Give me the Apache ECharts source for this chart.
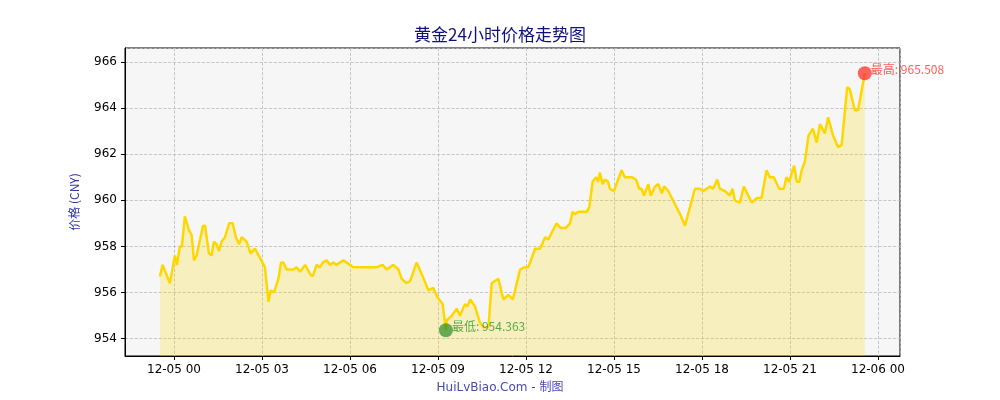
<!DOCTYPE html>
<html><head><meta charset="utf-8">
<script src="https://cdn.jsdelivr.net/npm/echarts@6/dist/echarts.min.js"></script>
<style>html,body{margin:0;padding:0;background:#fff}#c{width:1000px;height:400px}</style>
</head><body><div id="c"></div>
<script>
// hours relative to 2024-12-05 00:00
const hours = [-0.48,-0.39,-0.14,0.03,0.1,0.2,0.27,0.37,0.43,0.51,0.6,0.68,0.77,0.99,1.06,1.19,1.28,1.36,1.45,1.53,1.62,1.74,1.88,2.0,2.11,2.22,2.31,2.48,2.61,2.76,2.93,3.1,3.22,3.3,3.41,3.56,3.65,3.73,3.84,4.07,4.18,4.3,4.47,4.64,4.73,4.86,4.98,5.07,5.2,5.32,5.43,5.54,5.77,6.0,6.11,6.91,7.11,7.25,7.48,7.65,7.76,7.93,8.05,8.27,8.48,8.67,8.84,8.98,9.16,9.27,9.3,9.47,9.64,9.75,9.92,10.0,10.1,10.26,10.43,10.55,10.72,10.83,10.94,11.06,11.23,11.4,11.55,11.8,11.97,12.08,12.31,12.48,12.65,12.76,13.04,13.18,13.36,13.5,13.59,13.67,13.78,14.07,14.16,14.27,14.39,14.46,14.52,14.61,14.69,14.8,14.86,15.0,15.11,15.26,15.37,15.6,15.75,15.86,15.94,16.02,16.17,16.25,16.4,16.51,16.63,16.71,16.85,17.25,17.42,17.76,17.93,18.04,18.27,18.38,18.52,18.61,18.78,18.95,19.04,19.12,19.29,19.43,19.69,19.88,20.03,20.2,20.31,20.45,20.63,20.79,20.88,20.97,21.14,21.23,21.32,21.4,21.51,21.63,21.78,21.91,22.02,22.19,22.3,22.47,22.64,22.76,22.95,23.04,23.21,23.32,23.55];
const prices = [956.7,957.2,956.4,957.6,957.2,958.0,958.0,959.3,959.3,958.7,958.5,957.4,957.6,958.9,958.9,957.7,957.6,958.2,958.1,957.8,958.2,958.4,959.0,959.0,958.4,958.1,958.4,958.2,957.7,957.9,957.5,957.1,955.6,956.1,956.0,956.6,957.3,957.3,957.0,957.0,957.1,956.9,957.2,956.8,956.7,957.2,957.1,957.3,957.4,957.2,957.3,957.2,957.4,957.2,957.1,957.1,957.2,957.0,957.2,957.0,956.6,956.4,956.5,957.3,956.7,956.1,956.2,955.8,955.5,954.363,954.8,955.0,955.3,955.0,955.5,955.4,955.7,955.4,954.7,954.5,954.5,956.4,956.5,956.6,955.7,955.9,955.7,957.0,957.1,957.1,957.9,957.9,958.4,958.3,959.0,958.8,958.8,959.0,959.5,959.4,959.5,959.5,959.7,960.8,961.0,960.8,961.2,960.7,960.9,960.8,960.5,960.4,960.8,961.3,961.0,961.0,960.9,960.5,960.5,960.2,960.7,960.2,960.6,960.7,960.3,960.6,960.4,959.4,958.9,960.5,960.5,960.4,960.6,960.5,960.9,960.5,960.4,960.2,960.5,960.0,959.9,960.6,959.9,960.1,960.1,961.3,961.0,961.0,960.5,960.5,961.0,960.8,961.5,960.8,960.8,961.3,961.7,962.8,963.1,962.5,963.3,962.9,963.6,962.8,962.3,962.4,964.9,964.8,963.9,963.9,965.508];
const tickLabels = ['12-05 00','12-05 03','12-05 06','12-05 09','12-05 12','12-05 15','12-05 18','12-05 21','12-06 00'];
const minPoint = {hour: 9.27, value: 954.363, label: '最低: 954.363'};
const maxPoint = {hour: 23.55, value: 965.508, label: '最高: 965.508'};
const S = h => h / 3; // x axis unit: 3-hour blocks
const data = hours.map((h, i) => [S(h), prices[i]]);
const chart = echarts.init(document.getElementById('c'));
chart.setOption({
  backgroundColor: '#fff',
  animation: false,
  title: {text: '黄金24小时价格走势图', left: 'center', top: 21,
    textStyle: {fontFamily: 'Noto Sans CJK SC', fontSize: 17, fontWeight: 'normal', color: '#10107a'}},
  graphic: [{type: 'text', left: 'center', top: 382,
    style: {text: 'HuiLvBiao.Com - 制图', fill: '#4a4ab0', font: '12px "DejaVu Sans","Noto Sans CJK SC"'}}],
  grid: {left: 125, right: 100, top: 48, bottom: 44, show: true, backgroundColor: '#f6f6f6', borderColor: '#000', borderWidth: 1},
  xAxis: {type: 'value', min: S(-1.67), max: S(24.75), splitNumber: 9,
    axisLine: {show: true, onZero: false, lineStyle: {color: '#000'}}, axisTick: {show: true, length: 4, lineStyle: {color: '#000'}},
    axisLabel: {formatter: v => tickLabels[Math.round(v)] || '', color: '#000', fontFamily: 'DejaVu Sans', fontSize: 12, margin: 8,
      showMinLabel: false, showMaxLabel: false, hideOverlap: false},
    splitLine: {show: true, lineStyle: {color: '#bbb', type: 'dashed', width: 0.8}}},
  yAxis: {type: 'value', min: 953.25, max: 966.6, splitNumber: 6,
    name: '价格 (CNY)', nameLocation: 'middle', nameGap: 45, nameRotate: 90,
    nameTextStyle: {color: '#3333aa', fontFamily: 'Noto Sans CJK SC', fontSize: 12},
    axisLine: {show: true, onZero: false, lineStyle: {color: '#000'}}, axisTick: {show: true, length: 4, lineStyle: {color: '#000'}},
    axisLabel: {color: '#000', fontFamily: 'DejaVu Sans', fontSize: 12, showMinLabel: false, showMaxLabel: false},
    splitLine: {show: true, lineStyle: {color: '#bbb', type: 'dashed', width: 0.8}}},
  series: [
    {type: 'line', data: data, showSymbol: false, lineStyle: {color: '#FFD700', width: 2.5},
      areaStyle: {color: 'rgba(255,215,0,0.32)'}},
    {type: 'scatter', symbolSize: 14, z: 5,
      data: [
        {value: [S(minPoint.hour), minPoint.value], itemStyle: {color: 'rgba(34,139,34,0.85)'},
          label: {show: true, position: 'right', offset: [-6, -4], formatter: minPoint.label, color: '#2a9a2a', fontSize: 12, fontFamily: 'Noto Sans CJK SC'}},
        {value: [S(maxPoint.hour), maxPoint.value], itemStyle: {color: 'rgba(255,30,30,0.85)'},
          label: {show: true, position: 'right', offset: [-6, -4], formatter: maxPoint.label, color: '#ff3333', fontSize: 12, fontFamily: 'Noto Sans CJK SC'}}
      ]}
  ]
});
</script></body></html>
